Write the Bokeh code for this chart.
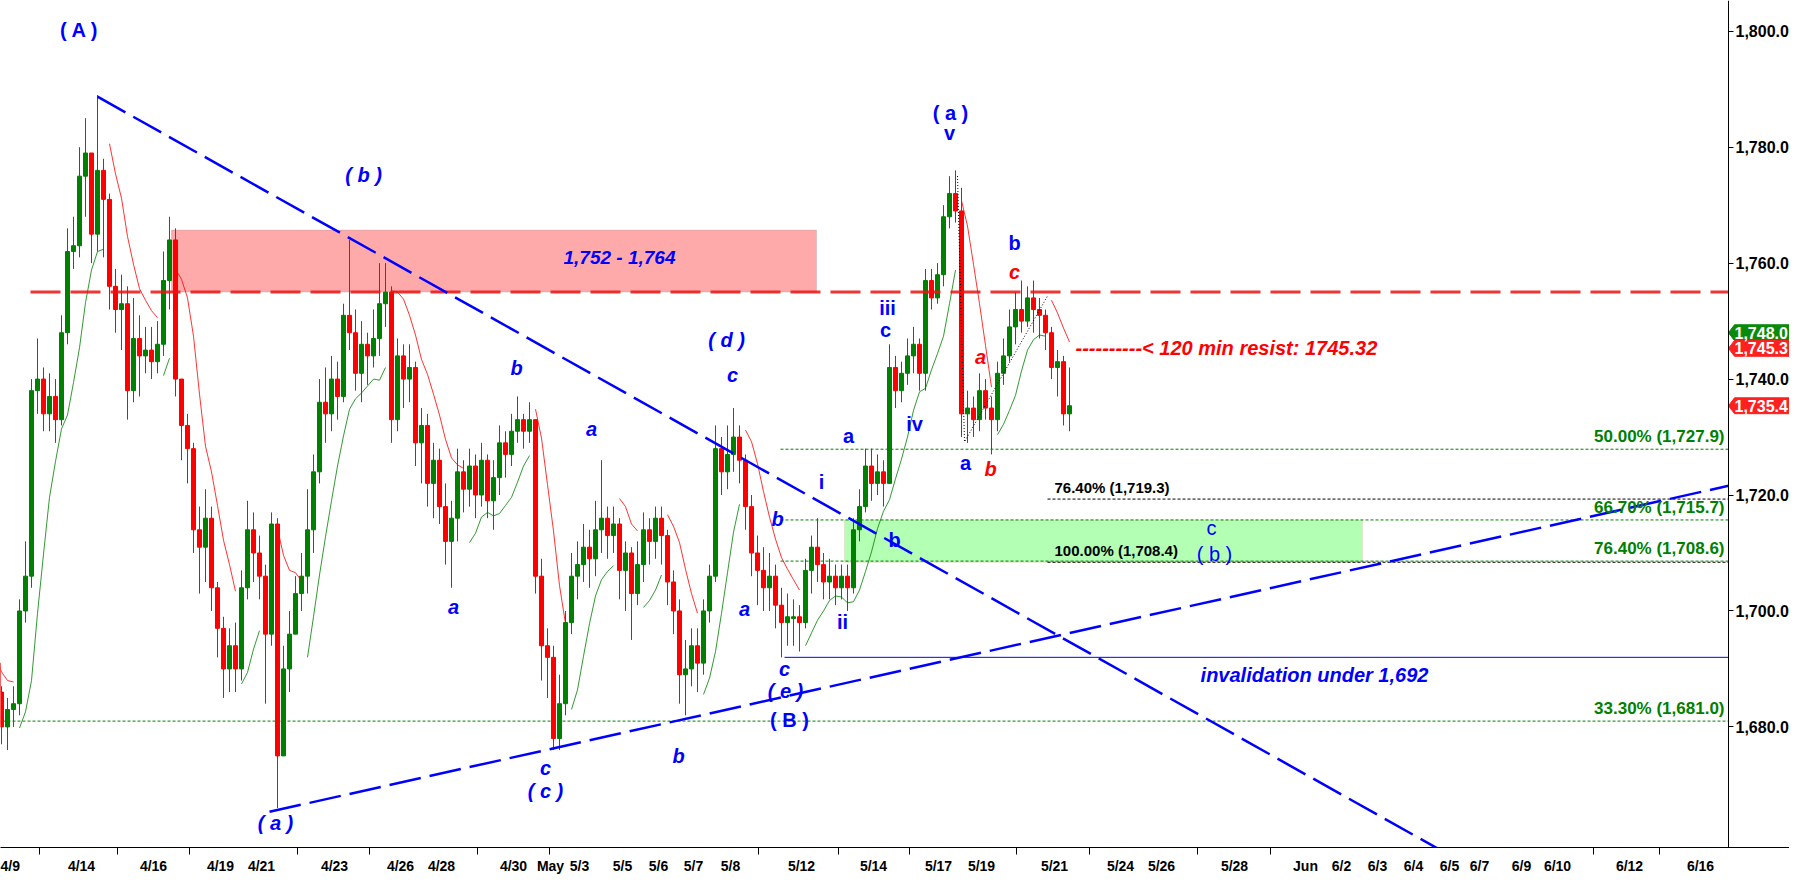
import numpy as np
import pandas as pd
from bokeh.plotting import figure
from bokeh.models import Range1d, FixedTicker, NumeralTickFormatter, Label, BoxAnnotation, ColumnDataSource
from bokeh.embed import file_html
from bokeh.resources import INLINE

# ---------------- data ----------------
first_open = 1691
close = [1686,1680,1683,1684,1700,1706,1738,1740,1734,1737,
         1733,1748,1762,1763,1775,1779,1765,1776,1771,1756,
         1752,1753,1738,1747,1744,1745,1743,1746,1757,1764,
         1740,1732,1728,1714,1711,1716,1704,1697,1690,1694,
         1690,1704,1714,1710,1706,1696,1715,1675,1690,1696,
         1703,1706,1714,1724,1736,1734,1740,1737,1751,1748,
         1741,1746,1744,1747,1753,1755,1733,1744,1740,1742,
         1729,1732,1722,1726,1718,1712,1716,1724,1721,1725,
         1720,1726,1719,1723,1729,1727,1731,1733,1731,1733,
         1706,1694,1692,1678,1684,1698,1706,1708,1711,1709,
         1714,1716,1713,1715,1707,1710,1703,1708,1714,1712,
         1716,1713,1705,1700,1689,1690,1694,1691,1700,1706,
         1728,1724,1727,1730,1726,1718,1710,1707,1704,1706,
         1701,1698,1699,1699,1698,1707,1711,1708,1705,1706,
         1704,1706,1704,1714,1718,1725,1722,1724,1722,1742,
         1738,1741,1744,1746,1741,1757,1754,1758,1768,1772,
         1769,1734,1735,1733,1738,1735,1733,1741,1744,1749,
         1752,1750,1754,1752,1751,1748,1742,1743,1734,1735.4]
high = [1692,1687,1685,1687,1702,1712,1740,1747,1742,1741,
        1740,1751,1766,1768,1780,1785,1772,1789,1778,1772,
        1759,1758,1756,1754,1751,1749,1749,1750,1762,1768,
        1766,1740,1734,1729,1718,1721,1718,1705,1699,1697,
        1698,1707,1719,1717,1713,1708,1717,1716,1694,1700,
        1706,1710,1721,1727,1740,1742,1744,1743,1753,1764,
        1752,1750,1748,1752,1760,1760,1756,1747,1746,1746,
        1743,1735,1734,1729,1728,1722,1719,1728,1726,1728,
        1727,1729,1727,1726,1732,1731,1734,1737,1734,1736,
        1733,1709,1697,1694,1689,1700,1710,1712,1715,1714,
        1719,1726,1718,1718,1716,1712,1711,1712,1717,1716,
        1718,1718,1714,1707,1702,1695,1697,1697,1702,1708,
        1732,1730,1732,1735,1732,1727,1720,1713,1711,1710,
        1708,1704,1703,1702,1701,1709,1713,1716,1710,1709,
        1708,1708,1708,1716,1721,1728,1728,1727,1726,1746,
        1744,1743,1747,1749,1747,1759,1759,1760,1770,1775,
        1776,1773,1738,1737,1741,1740,1737,1743,1747,1752,
        1755,1757,1756,1757,1754,1752,1749,1745,1744,1742]
low = [1684,1677,1676,1680,1682,1698,1704,1734,1731,1731,
       1729,1732,1746,1759,1761,1768,1760,1762,1761,1752,
       1748,1745,1733,1736,1737,1741,1740,1741,1744,1752,
       1737,1726,1722,1710,1703,1705,1700,1692,1685,1686,
       1686,1688,1702,1705,1702,1684,1694,1666,1676,1686,
       1696,1700,1703,1710,1722,1729,1731,1733,1736,1745,
       1738,1736,1739,1742,1744,1749,1729,1731,1735,1736,
       1725,1722,1718,1716,1715,1708,1704,1712,1717,1718,
       1716,1718,1716,1714,1720,1723,1725,1729,1728,1729,
       1703,1688,1685,1676,1676,1682,1696,1702,1705,1704,
       1706,1710,1709,1710,1702,1700,1695,1701,1705,1708,
       1709,1708,1701,1696,1684,1682,1687,1686,1689,1698,
       1705,1720,1721,1724,1722,1714,1706,1701,1700,1700,
       1697,1692,1694,1694,1693,1697,1703,1705,1702,1702,
       1701,1702,1700,1703,1712,1717,1719,1720,1718,1722,
       1735,1736,1739,1741,1738,1738,1752,1753,1756,1766,
       1767,1730,1729,1730,1731,1733,1727,1731,1739,1743,
       1746,1748,1749,1748,1747,1745,1740,1737,1732,1731]

date_labels = ["4/9","4/14","4/16","4/19","4/21","4/23","4/26","4/28","4/30","May","5/3",
               "5/5","5/6","5/7","5/8","5/12","5/14","5/17","5/19","5/21","5/24","5/26",
               "5/28","Jun","6/2","6/3","6/4","6/5","6/7","6/9","6/10","6/12","6/16"]
price_ticks = [1680, 1700, 1720, 1740, 1760, 1780, 1800]

resist_zone = (1755.0, 1765.7)       # pink zone
support_zone = (1708.4, 1715.7)      # green zone
resist_line = 1755.0
invalidation = 1692.0
fib_green = [("50.00% (1,727.9)", 1727.9), ("66.70% (1,715.7)", 1715.7),
             ("76.40% (1,708.6)", 1708.6), ("33.30% (1,681.0)", 1681.0)]
fib_black = [("76.40% (1,719.3)", 1719.3), ("100.00% (1,708.4)", 1708.4)]
tags = [("1,748.0", 1748.0, "#0a8a0a"), ("1,745.3", 1745.3, "#ff2020"), ("1,735.4", 1735.4, "#ff2020")]

# ---------------- layout helpers (reference pixel space) ----------------
PXU = 5.845          # reference pixels per price unit
def Y(py):           # reference pixel row -> price
    return 1800 - (py - 39) / PXU

n = len(close)
opens = [first_open] + close[:-1]
xs = np.array([3 + 6 * i for i in range(n)], dtype=float)
o = np.array(opens, float); c = np.array(close, float)
h = np.maximum(np.array(high, float), np.maximum(o, c))
l = np.minimum(np.array(low, float), np.minimum(o, c))
up = c >= o
top = np.maximum(o, c); bot = np.minimum(o, c)
bot = np.where(top - bot < 0.3, top - 0.3, bot)
colors = np.where(up, "#008000", "#ff0000")

src = ColumnDataSource(dict(x=xs, h=h, l=l, top=top, bot=bot, col=colors))

# HiLo activator style moving averages
N = 5
sh = pd.Series(h).rolling(N, min_periods=1).mean().values
sl = pd.Series(l).rolling(N, min_periods=1).mean().values
state = -1
trend = []
for i in range(n):
    if i > 0:
        if c[i] > sh[i - 1]:
            state = 1
        elif c[i] < sl[i - 1]:
            state = -1
    trend.append(state)
trend = np.array(trend)
red_ma = np.where(trend == -1, sh, np.nan)
green_ma = np.where(trend == 1, sl, np.nan)

# ---------------- figure ----------------
W, H = 1789, 876
BOTTOM = 22
AXIS_X = 1736
frame_h = H - BOTTOM
y_top = Y(8)
y_bot = Y(8 + frame_h)

p = figure(width=W, height=H, output_backend="svg", toolbar_location=None,
           x_range=Range1d(8, 8 + W), y_range=Range1d(y_bot, y_top),
           y_axis_location="right", min_border_left=0, min_border_top=0,
           min_border_right=0, min_border_bottom=BOTTOM)
p.xgrid.visible = False
p.ygrid.visible = False
p.outline_line_color = None
p.background_fill_color = "white"
p.border_fill_color = "white"

FONT = "Liberation Sans"
BLUE = "#0000ff"

# zones
p.add_layout(BoxAnnotation(left=179, right=824, bottom=resist_zone[0], top=resist_zone[1],
                           fill_color="#ffaaaa", fill_alpha=1.0, line_color="#999999",
                           line_width=1, level="underlay"))
p.add_layout(BoxAnnotation(left=852, right=1370, bottom=support_zone[0], top=support_zone[1],
                           fill_color="#b3ffb3", fill_alpha=1.0, line_color="#f0b0b0",
                           line_width=1, level="underlay"))

# fib lines
for txt, v in fib_green:
    x0 = 0 if v < 1690 else 788
    p.line([x0, AXIS_X], [v, v], line_color="#008000", line_dash="3 2", line_width=1)
for txt, v in fib_black:
    p.line([1055, AXIS_X], [v, v], line_color="#000000", line_dash="3 2", line_width=1)

# invalidation line
p.line([792, AXIS_X], [invalidation, invalidation], line_color=BLUE, line_width=1)

# candles
p.segment(x0="x", y0="l", x1="x", y1="h", color="col", line_width=1, source=src)
p.vbar(x="x", width=4, top="top", bottom="bot", fill_color="col", line_color="col", source=src)

# moving averages
p.line(xs, red_ma, line_color="#ff0000", line_width=1, line_alpha=0.8)
p.line(xs, green_ma, line_color="#008000", line_width=1, line_alpha=0.8)

# black dotted swing line
p.line([965, 972, 1055], [Y(185), Y(453), Y(306)], line_color="black", line_dash="1 2", line_width=1)

# resistance dashed red line
p.line([38, AXIS_X], [resist_line, resist_line], line_color="#ee1111", line_alpha=0.85,
       line_width=3, line_dash="30 10")

# blue trend lines
p.line([105, 1460], [Y(105), Y(105 + 0.5656 * (1460 - 105))], line_color=BLUE,
       line_width=2.5, line_dash="32 9")
p.line([277, AXIS_X], [Y(826), Y(826 - 0.2253 * (AXIS_X - 277))], line_color=BLUE,
       line_width=2.5, line_dash="32 9")

# ---------------- texts ----------------
def lab(t, x, py, color=BLUE, style="bold", size=20, align="center"):
    p.add_layout(Label(x=x, y=Y(py), text=t, text_color=color, text_font_style=style,
                       text_font_size=f"{size}px", text_align=align, text_baseline="middle",
                       text_font=FONT))

wave = [
    ("( A )", 87, 38, BLUE, "bold"),
    ("( b )", 371, 184, BLUE, "bold italic"),
    ("( a )", 283, 837, BLUE, "bold italic"),
    ("c", 553, 782, BLUE, "bold italic"),
    ("( c )", 553, 805, BLUE, "bold italic"),
    ("b", 686, 770, BLUE, "bold italic"),
    ("( d )", 734, 350, BLUE, "bold italic"),
    ("c", 740, 386, BLUE, "bold italic"),
    ("b", 524, 379, BLUE, "bold italic"),
    ("a", 599, 440, BLUE, "bold italic"),
    ("a", 461, 620, BLUE, "bold italic"),
    ("a", 752, 622, BLUE, "bold italic"),
    ("b", 785, 531, BLUE, "bold italic"),
    ("c", 792, 682, BLUE, "bold italic"),
    ("( e )", 793, 704, BLUE, "bold italic"),
    ("( B )", 797, 733, BLUE, "bold"),
    ("i", 829, 493, BLUE, "bold"),
    ("a", 856, 447, BLUE, "bold"),
    ("b", 902, 552, BLUE, "bold"),
    ("ii", 850, 635, BLUE, "bold"),
    ("iii", 895, 318, BLUE, "bold"),
    ("c", 893, 340, BLUE, "bold"),
    ("iv", 922, 435, BLUE, "bold"),
    ("( a )", 958, 121, BLUE, "bold"),
    ("v", 957, 142, BLUE, "bold"),
    ("a", 973, 474, BLUE, "bold"),
    ("b", 998, 480, "#ff0000", "bold italic"),
    ("a", 988, 367, "#ff0000", "bold italic"),
    ("b", 1022, 253, BLUE, "bold"),
    ("c", 1022, 282, "#ff0000", "bold italic"),
    ("c", 1219, 540, BLUE, "normal"),
    ("( b )", 1222, 566, BLUE, "normal"),
]
for t, x, py, col, st in wave:
    lab(t, x, py, col, st, 20)

lab("1,752 - 1,764", 627, 267, BLUE, "bold italic", 19)
lab("invalidation under 1,692", 1322, 688, BLUE, "bold italic", 20)
lab("----------< 120 min resist: 1745.32", 1083, 358, "#ff0000", "bold italic", 20, align="left")

for txt, v in fib_green:
    p.add_layout(Label(x=1732, y=v, text=txt, text_color="#008000", text_font_style="bold",
                       text_font_size="17px", text_align="right", text_baseline="bottom",
                       y_offset=3, text_font=FONT))
for txt, v in fib_black:
    p.add_layout(Label(x=1062, y=v, text=txt, text_color="#000000", text_font_style="bold",
                       text_font_size="15px", text_align="left", text_baseline="bottom",
                       y_offset=3, text_font=FONT))

# price tags at the right axis
half = 8 / PXU
for txt, v, col in tags:
    p.patch([AXIS_X, AXIS_X + 6, AXIS_X + 68, AXIS_X + 68, AXIS_X + 6],
            [v, v + half, v + half, v - half, v - half],
            fill_color=col, line_color=col, line_width=1)
    p.add_layout(Label(x=AXIS_X + 6, y=v, text=txt, text_color="white", text_font_style="bold",
                       text_font_size="16px", text_align="left", text_baseline="middle",
                       text_font=FONT))

# ---------------- axes ----------------
tick_px = [14, 89, 161, 228, 269, 342, 408, 449, 521, 558, 587, 630, 666, 701, 738, 809, 881,
           946, 989, 1062, 1128, 1169, 1242, 1313, 1349, 1385, 1421, 1457, 1487, 1529, 1565,
           1637, 1708]
minor_px = [47, 125, 197, 305, 377, 485, 557, 766, 846, 917, 1024, 1097, 1205, 1278, 1601, 1667]
xa = p.xaxis[0]
xa.ticker = FixedTicker(ticks=tick_px, minor_ticks=minor_px)
xa.major_label_overrides = {t: s for t, s in zip(tick_px, date_labels)}
xa.major_tick_out = 0
xa.major_tick_in = 0
xa.minor_tick_out = 7
xa.minor_tick_in = 0
xa.minor_tick_line_color = "black"
xa.major_label_standoff = 3
xa.major_label_text_font = FONT
xa.major_label_text_font_style = "bold"
xa.major_label_text_font_size = "14px"
xa.major_label_text_color = "black"
xa.axis_line_color = "black"

ya = p.yaxis[0]
ya.fixed_location = AXIS_X
ya.ticker = FixedTicker(ticks=price_ticks, minor_ticks=[])
ya.formatter = NumeralTickFormatter(format="0,0.0")
ya.major_tick_out = 5
ya.major_tick_in = 0
ya.minor_tick_out = 0
ya.minor_tick_in = 0
ya.major_label_standoff = 2
ya.major_label_text_font = FONT
ya.major_label_text_font_style = "bold"
ya.major_label_text_font_size = "16px"
ya.major_label_text_color = "black"
ya.axis_line_color = "black"

open("out.html", "w").write(file_html(p, INLINE))
